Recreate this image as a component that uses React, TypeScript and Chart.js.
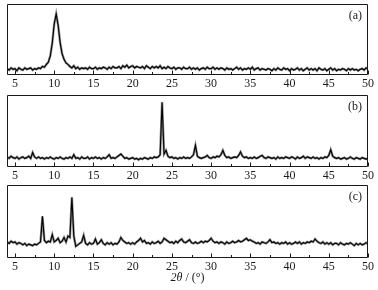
import React, { useEffect, useRef } from 'react';
import { Chart, registerables } from 'chart.js';

Chart.register(...registerables);

// 2θ grid of the scans (degrees)
const angleStart = 4;
const angleStep = 0.25;
const xMin = 3.98;
const xMax = 50;

const majorTicks = [5, 10, 15, 20, 25, 30, 35, 40, 45, 50];
const minorTicks = [7.5, 12.5, 17.5, 22.5, 27.5, 32.5, 37.5, 42.5, 47.5];

const panelLabels = ['(a)', '(b)', '(c)'];
const titleParts = [
  { text: '2', italic: true },
  { text: 'θ', italic: true },
  { text: ' / (°)', italic: false },
];

// relative intensity (0–100), one value every 0.25° from 4° to 50°
const seriesA = [
  9, 7, 10, 8, 9, 6, 10, 8, 7, 10, 8, 9, 10, 7, 9, 8,
  10, 9, 12, 11, 15, 18, 27, 45, 72, 86, 70, 46, 30, 22, 17, 15,
  12, 10, 13, 9, 11, 8, 10, 9, 10, 8, 11, 9, 9, 11, 8, 10,
  9, 11, 10, 8, 11, 9, 12, 10, 10, 12, 9, 13, 11, 14, 10, 12,
  13, 10, 12, 11, 10, 12, 9, 13, 11, 9, 12, 10, 12, 10, 13, 9,
  11, 9, 12, 10, 9, 11, 8, 10, 10, 8, 11, 9, 9, 11, 8, 10,
  8, 10, 7, 9, 10, 8, 11, 9, 9, 11, 8, 10, 8, 10, 9, 7,
  10, 8, 9, 7, 9, 11, 8, 10, 7, 9, 8, 10, 8, 11, 7, 9,
  10, 7, 9, 8, 7, 9, 8, 6, 9, 7, 10, 8, 7, 10, 8, 9,
  6, 9, 7, 8, 10, 7, 9, 6, 8, 10, 7, 9, 7, 9, 6, 10,
  8, 7, 9, 6, 8, 10, 7, 9, 6, 8, 7, 9, 8, 6, 9, 7,
  9, 7, 8, 6, 8, 9, 7, 10, 8,
];

const seriesB = [
  14, 12, 15, 13, 12, 14, 11, 13, 14, 12, 13, 15, 12, 20, 14, 12,
  14, 12, 13, 11, 13, 12, 14, 12, 11, 13, 12, 14, 12, 11, 13, 12,
  14, 12, 17, 12, 13, 11, 14, 12, 12, 14, 11, 13, 12, 14, 12, 13,
  11, 13, 12, 14, 17, 12, 13, 12, 14, 16, 18, 15, 12, 13, 11, 12,
  13, 11, 12, 10, 12, 11, 13, 12, 11, 13, 12, 14, 13, 14, 17, 90,
  18, 23, 15, 13, 14, 12, 13, 11, 13, 12, 14, 12, 13, 12, 14, 17,
  30, 15, 13, 12, 13, 14, 16, 13, 12, 14, 13, 15, 14, 17, 23, 16,
  13, 14, 12, 13, 14, 13, 16, 21, 15, 13, 14, 12, 13, 12, 14, 12,
  13, 15, 16, 13, 12, 14, 13, 12, 13, 11, 14, 12, 13, 12, 14, 13,
  12, 14, 13, 11, 14, 12, 13, 15, 12, 14, 13, 12, 14, 12, 13, 11,
  13, 12, 14, 13, 16, 24, 15, 13, 12, 13, 11, 12, 13, 11, 12, 14,
  12, 11, 13, 12, 11, 13, 12, 11, 12,
];

const seriesC = [
  22, 20, 23, 21, 22, 19, 21, 20, 18, 20, 17, 19, 18, 17, 19, 18,
  20, 22, 57, 24, 21, 23, 22, 32, 22, 24, 27, 21, 23, 28, 22, 30,
  28, 83, 30, 16, 18, 20, 22, 31, 20, 18, 21, 19, 20, 26, 19, 21,
  25, 20, 18, 21, 19, 21, 18, 20, 19, 22, 28, 24, 22, 20, 21, 19,
  21, 19, 22, 24, 27, 22, 24, 20, 21, 19, 22, 20, 21, 23, 20, 22,
  27, 25, 23, 21, 22, 20, 23, 21, 24, 26, 22, 21, 23, 25, 21, 20,
  22, 20, 21, 23, 21, 23, 22, 24, 27, 23, 21, 22, 20, 22, 21, 19,
  22, 20, 21, 23, 21, 22, 24, 22, 23, 25, 27, 24, 25, 23, 22, 20,
  21, 19, 22, 21, 20, 22, 25, 21, 22, 20, 21, 19, 21, 20, 22, 19,
  21, 19, 20, 22, 20, 22, 19, 21, 20, 22, 21, 23, 22, 26, 23, 21,
  20, 22, 19, 21, 19, 21, 18, 20, 20, 18, 21, 19, 18, 20, 19, 21,
  19, 17, 20, 18, 20, 18, 19, 21, 19,
];

const serif = '"Liberation Serif", "Times New Roman", serif';

type PanelProps = {
  top: number;
  height: number;
  padTop: number;
  axisH: number;
  values: number[];
  label: string;
  showTitle: boolean;
};

function Panel({ top, height, padTop, axisH, values, label, showTitle }: PanelProps) {
  const ref = useRef<HTMLCanvasElement>(null);

  useEffect(() => {
    const pts = values.map((y, i) => ({ x: angleStart + i * angleStep, y }));
    const deco = {
      id: 'deco',
      afterDraw(chart: any) {
        const { ctx, chartArea: a, scales } = chart;
        const x = scales.x;
        ctx.save();
        ctx.strokeStyle = '#1a1a1a';
        ctx.lineWidth = 1;
        const l = Math.round(a.left) + 0.5;
        const r = Math.round(a.right) - 0.5;
        const t = Math.round(a.top) + 0.5;
        const b = Math.round(a.bottom) - 0.5;
        ctx.beginPath();
        ctx.moveTo(l, t);
        ctx.lineTo(r, t);
        ctx.lineTo(r, b);
        ctx.lineTo(l, b);
        ctx.closePath();
        ctx.stroke();
        ctx.beginPath();
        for (const v of majorTicks) {
          const px = Math.round(x.getPixelForValue(v)) + 0.5;
          ctx.moveTo(px, b);
          ctx.lineTo(px, b - 4);
        }
        for (const v of minorTicks) {
          const px = Math.round(x.getPixelForValue(v)) + 0.5;
          ctx.moveTo(px, b);
          ctx.lineTo(px, b - 2.5);
        }
        ctx.stroke();
        ctx.fillStyle = '#1a1a1a';
        ctx.font = `12px ${serif}`;
        ctx.textAlign = 'right';
        ctx.textBaseline = 'middle';
        ctx.fillText(label, a.right - 6, a.top + 12);
        if (showTitle) {
          const cx = (a.left + a.right) / 2;
          const cy = a.bottom + 20;
          const widths = titleParts.map((p) => {
            ctx.font = `${p.italic ? 'italic ' : ''}12px ${serif}`;
            return ctx.measureText(p.text).width;
          });
          const total = widths.reduce((s, w) => s + w, 0);
          let xx = cx - total / 2;
          ctx.textAlign = 'left';
          titleParts.forEach((p, i) => {
            ctx.font = `${p.italic ? 'italic ' : ''}12px ${serif}`;
            ctx.fillText(p.text, xx, cy);
            xx += widths[i];
          });
        }
        ctx.restore();
      },
    };

    const chart = new Chart(ref.current as HTMLCanvasElement, {
      type: 'line',
      data: {
        datasets: [
          {
            data: pts,
            borderColor: 'rgba(0,0,0,0.45)',
            borderWidth: 2.4,
            pointRadius: 0,
            tension: 0,
          },
          {
            data: pts,
            borderColor: '#000',
            borderWidth: 1.1,
            pointRadius: 0,
            tension: 0,
          },
        ],
      },
      options: {
        animation: false,
        responsive: false,
        maintainAspectRatio: false,
        devicePixelRatio: 1,
        layout: { padding: { left: 7, right: 10, top: padTop, bottom: 0 } },
        plugins: { legend: { display: false }, tooltip: { enabled: false } },
        scales: {
          x: {
            type: 'linear',
            min: xMin,
            max: xMax,
            grid: { display: false, drawTicks: false },
            border: { display: false },
            ticks: {
              color: '#1a1a1a',
              padding: 2,
              maxRotation: 0,
              autoSkip: false,
              font: { family: serif, size: 12 },
            },
            afterBuildTicks: (s: any) => {
              s.ticks = majorTicks.map((v) => ({ value: v }));
            },
            afterFit: (s: any) => {
              s.height = axisH;
            },
          },
          y: { display: false, min: 0, max: 100 },
        },
      } as any,
      plugins: [deco],
    });
    return () => chart.destroy();
  }, []);

  return (
    <canvas
      ref={ref}
      width={378}
      height={height}
      style={{ position: 'absolute', left: 0, top, display: 'block' }}
    />
  );
}

export default function App() {
  return (
    <div
      style={{
        position: 'absolute',
        left: 0,
        top: 0,
        width: 378,
        height: 290,
        background: '#fff',
        overflow: 'hidden',
      }}
    >
      <Panel top={0} height={90} padTop={4} axisH={15} values={seriesA} label={panelLabels[0]} showTitle={false} />
      <Panel top={90} height={93} padTop={5} axisH={16} values={seriesB} label={panelLabels[1]} showTitle={false} />
      <Panel top={183} height={107} padTop={2} axisH={32} values={seriesC} label={panelLabels[2]} showTitle={true} />
    </div>
  );
}
